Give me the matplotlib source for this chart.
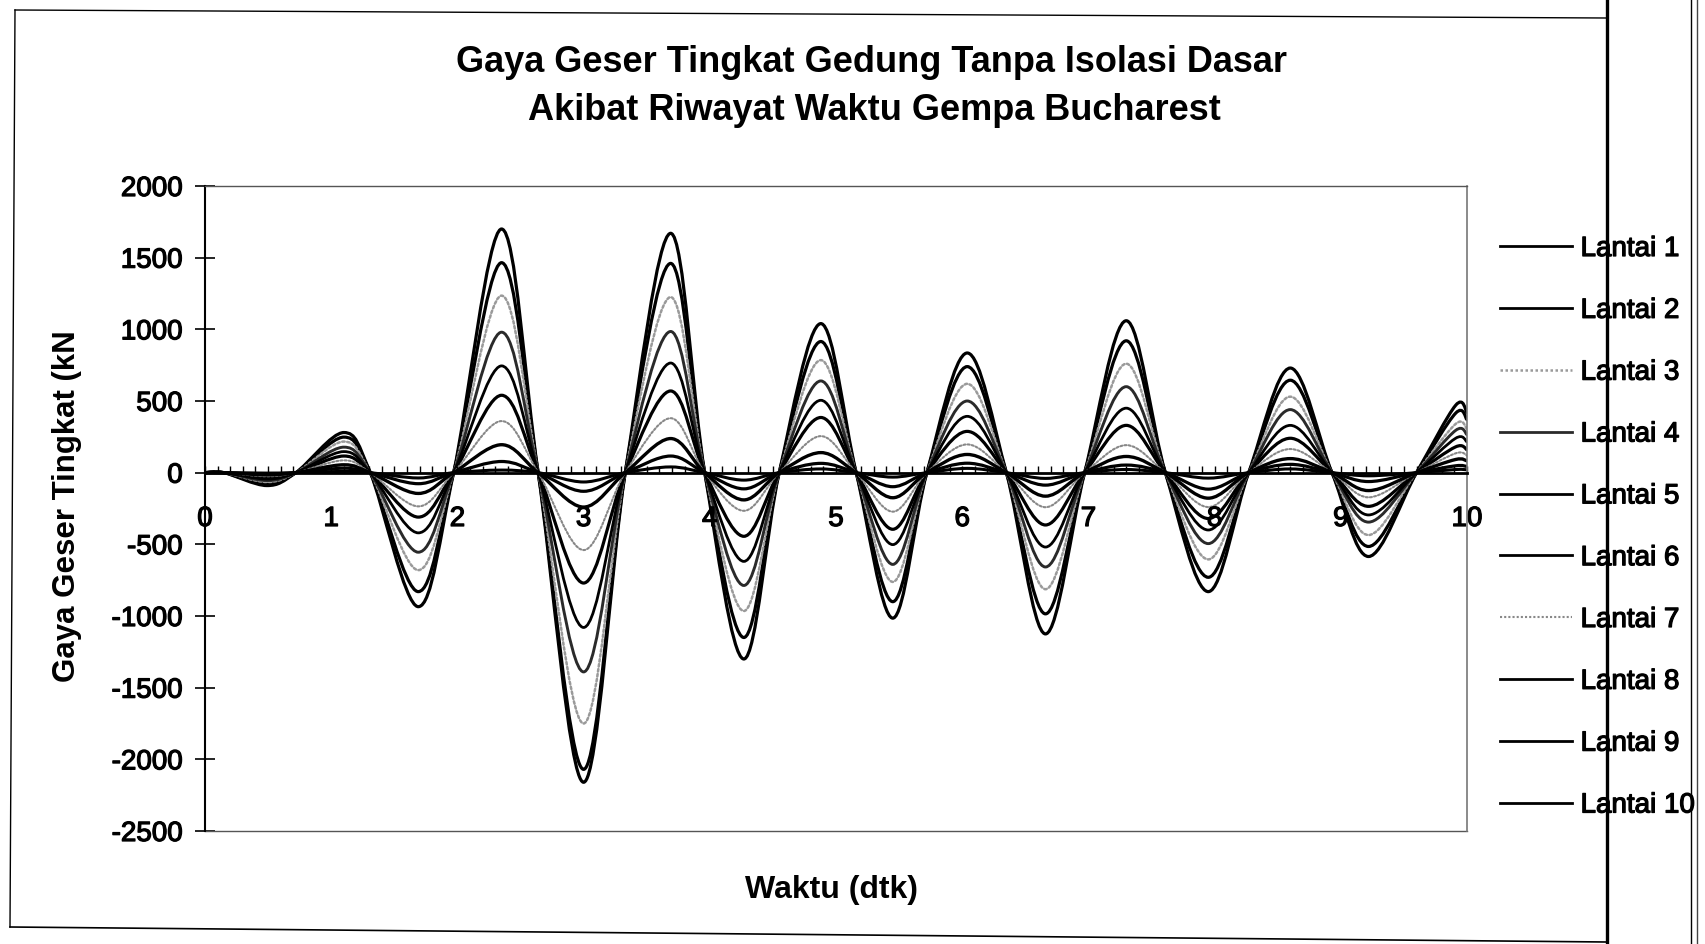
import numpy as np
import matplotlib
matplotlib.use("Agg")
import matplotlib.pyplot as plt
import matplotlib.patheffects as pe
from matplotlib.path import Path
from matplotlib.patches import PathPatch
from matplotlib.lines import Line2D

plt.rcParams['font.family'] = ['Liberation Sans', 'DejaVu Sans']
plt.rcParams['axes.unicode_minus'] = False

# --- data ---
# zero crossings (s) and time of each lobe extremum (s), last point is t=10
t_zero = [0.15, 0.72, 1.31, 1.97, 2.64, 3.33, 3.96, 4.55,
          5.16, 5.72, 6.35, 6.97, 7.61, 8.27, 8.93, 9.60]
t_peak = [0.49, 1.10, 1.69, 2.35, 3.00, 3.69, 4.27, 4.88,
          5.45, 6.04, 6.66, 7.30, 7.95, 8.60, 9.22, 9.91]
t_end = 10.0

# lobe extremum values (kN) per storey, plus the value at t=10
lantai1 = [-90, 280, -935, 1700, -2160, 1670, -1300, 1040, -1015, 835, -1125, 1060, -830, 730, -585, 470, 420]
lantai2 = [-80, 248, -830, 1465, -2070, 1460, -1150, 915, -900, 740, -985, 920, -730, 645, -515, 415, 370]
lantai3 = [-65, 217, -680, 1235, -1750, 1225, -965, 785, -762, 620, -813, 760, -605, 530, -435, 340, 305]
lantai4 = [-55, 178, -555, 980, -1390, 985, -787, 640, -640, 500, -658, 600, -495, 440, -345, 295, 265]
lantai5 = [-45, 147, -420, 745, -1080, 765, -619, 505, -502, 393, -519, 450, -400, 330, -295, 240, 215]
lantai6 = [-35, 116, -310, 540, -770, 570, -444, 385, -395, 288, -365, 330, -320, 240, -235, 180, 160]
lantai7 = [-25, 86, -235, 360, -540, 380, -266, 255, -272, 197, -241, 192, -240, 165, -172, 135, 120]
lantai8 = [-15, 55, -145, 195, -240, 238, -190, 140, -175, 127, -164, 113, -178, 98, -125, 92, 82]
lantai9 = [-8, 31, -77, 78, -130, 116, -113, 65, -98, 66, -87, 53, -115, 58, -62, 48, 43]
lantai10 = [-3, 9, -37, 18, -65, 40, -52, 26, -31, 30, -40, 22, -38, 26, -22, 22, 20]

series = [lantai1, lantai2, lantai3, lantai4, lantai5,
          lantai6, lantai7, lantai8, lantai9, lantai10]
labels = ["Lantai %d" % i for i in range(1, 11)]

styles = [
    dict(color='black', lw=2.3, ls='-'),
    dict(color='black', lw=2.3, ls='-'),
    dict(color='#9a9a9a', lw=1.8, ls=(0, (1, 1))),
    dict(color='#2a2a2a', lw=2.1, ls='-'),
    dict(color='black', lw=2.0, ls='-'),
    dict(color='black', lw=2.3, ls='-'),
    dict(color='#888888', lw=1.5, ls=(0, (1, 1))),
    dict(color='black', lw=2.4, ls='-'),
    dict(color='black', lw=2.3, ls='-'),
    dict(color='black', lw=2.2, ls='-'),
]

heavy = [pe.withStroke(linewidth=0.9, foreground='black')]


def key_points(vals):
    xs, ys = [0.0], [0.0]
    for tz, tp, v in zip(t_zero, t_peak, vals[:-1]):
        xs += [tz, tp]
        ys += [0.0, v]
    xs.append(t_end)
    ys.append(vals[-1])
    return np.array(xs), np.array(ys)


def smooth_path(xs, ys):
    # Catmull-Rom through the key points, drawn as cubic Bezier segments
    P = np.column_stack([xs, ys])
    Q = np.vstack([P[0], P, P[-1]])
    verts, codes = [P[0]], [Path.MOVETO]
    for i in range(len(P) - 1):
        p0, p1, p2, p3 = Q[i], Q[i + 1], Q[i + 2], Q[i + 3]
        verts += [p1 + (p2 - p0) / 6, p2 - (p3 - p1) / 6, p2]
        codes += [Path.CURVE4] * 3
    return Path(verts, codes)


fig = plt.figure(figsize=(17.06, 9.45), dpi=100)
ax = fig.add_axes([205 / 1706, 1 - 832 / 945, 1262 / 1706, 645 / 945])

handles = []
for vals, st, lab in zip(series, styles, labels):
    xs, ys = key_points(vals)
    ax.add_patch(PathPatch(smooth_path(xs, ys), fill=False, edgecolor=st['color'],
                           lw=st['lw'], ls=st['ls'], capstyle='round', joinstyle='round'))
    handles.append(Line2D([], [], color=st['color'], lw=min(st['lw'], 2.0), ls=st['ls']))

ax.set_xlim(0, 10)
ax.set_ylim(-2500, 2000)
ax.set_yticks(np.arange(-2500, 2001, 500))
ax.set_xticks(np.arange(0, 11, 1))
ax.set_xticks(np.arange(0, 10.01, 0.1), minor=True)

ax.spines['bottom'].set_position(('data', 0))
ax.spines['bottom'].set_linewidth(2.0)
ax.spines['left'].set_linewidth(1.5)
ax.spines['top'].set_color('#555555')
ax.spines['top'].set_linewidth(1.0)
ax.spines['right'].set_color('#777777')
ax.spines['right'].set_linestyle((0, (1, 1)))
ax.spines['right'].set_linewidth(1.2)
ax.axhline(-2500, color='#555555', lw=1.0, clip_on=False)

ax.tick_params(axis='y', direction='inout', length=14, width=1.2, pad=9, labelsize=20)
ax.tick_params(axis='x', which='major', direction='in', length=5, width=1.0, pad=24, labelsize=20)
ax.tick_params(axis='x', which='minor', direction='in', length=5, width=1.0)
for lab in ax.get_xticklabels() + ax.get_yticklabels():
    lab.set_path_effects(heavy)

fig.text(872 / 1706, 1 - 63 / 945, "Gaya Geser Tingkat Gedung Tanpa Isolasi Dasar",
         ha='center', va='center', fontsize=26, fontweight='bold')
fig.text(874 / 1706, 1 - 110 / 945, "Akibat Riwayat Waktu Gempa Bucharest",
         ha='center', va='center', fontsize=26, fontweight='bold')
fig.text(67 / 1706, 1 - 506 / 945, "Gaya Geser Tingkat (kN", rotation=90,
         ha='center', va='center', fontsize=22.5, fontweight='bold')
fig.text(832 / 1706, 1 - 890 / 945, "Waktu (dtk)",
         ha='center', va='center', fontsize=23, fontweight='bold')

leg = fig.legend(handles, labels, loc='upper left', bbox_to_anchor=(1500 / 1706, 1 - 237 / 945),
                 frameon=False, fontsize=20, handlelength=2.6, handletextpad=0.3,
                 labelspacing=1.29, borderpad=0, borderaxespad=0)
for txt in leg.get_texts():
    txt.set_path_effects(heavy)

# page frame of the scanned sheet
fig.add_artist(Line2D([15 / 1706, 1606 / 1706], [1 - 11 / 945, 1 - 19 / 945], color='black', lw=1.0))
fig.add_artist(Line2D([15 / 1706, 10 / 1706], [1 - 11 / 945, 1 - 928 / 945], color='black', lw=1.0))
fig.add_artist(Line2D([10 / 1706, 1606 / 1706], [1 - 928 / 945, 1 - 943 / 945], color='black', lw=1.2))
fig.add_artist(Line2D([1607 / 1706, 1607 / 1706], [0, 1], color='black', lw=2.4))
fig.add_artist(Line2D([1691 / 1706, 1691 / 1706], [0, 1], color='black', lw=1.0))
fig.add_artist(Line2D([1697 / 1706, 1697 / 1706], [0, 1], color='#444444', lw=1.0))

fig.savefig("out.png", dpi=100)
